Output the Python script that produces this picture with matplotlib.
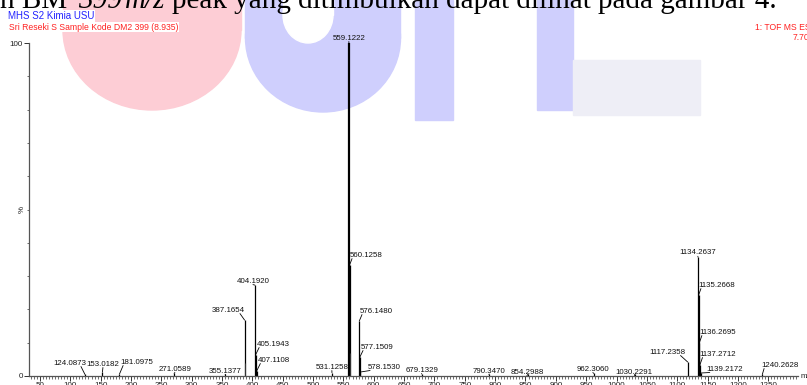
import matplotlib
matplotlib.use('Agg')
from matplotlib import pyplot as plt
from matplotlib.ticker import MultipleLocator
from matplotlib.patches import Ellipse, Rectangle

# labelled peaks: m/z, relative intensity (%)
peak_mz = [124.0873, 153.0182, 181.0975, 271.0589, 355.1377, 387.1654,
           404.1920, 405.1943, 407.1108, 531.1258, 559.1222, 560.1258,
           576.1480, 577.1509, 578.1530, 679.1329, 790.3470, 854.2988,
           962.3060, 1030.2291, 1117.2358, 1134.2637, 1135.2668, 1136.2695,
           1137.2712, 1139.2172, 1240.2628]
peak_int = [0.5, 1.2, 0.6, 0.8, 0.5, 16.8,
            27.3, 6.3, 1.5, 1.0, 100.0, 33.3,
            16.5, 5.7, 1.2, 0.6, 0.6, 0.5,
            0.8, 0.5, 4.2, 35.7, 24.3, 9.9,
            3.3, 0.9, 0.5]

# where the peak labels sit (m/z, %)
label_mz = [98.6, 153.8, 209.8, 272.4, 355.9, 360.5,
            401.0, 434.0, 435.5, 531.0, 559.0, 587.0,
            603.5, 605.0, 616.7, 678.8, 789.7, 852.3,
            961.0, 1029.4, 1084.6, 1134.0, 1164.5, 1166.0,
            1167.0, 1179.0, 1269.0]
label_pct = [3.9, 3.6, 4.2, 2.1, 1.5, 19.8,
             28.5, 9.6, 4.8, 2.7, 101.5, 36.3,
             19.5, 8.7, 2.7, 1.8, 1.5, 1.2,
             2.1, 1.2, 7.2, 37.0, 27.3, 13.2,
             6.6, 2.1, 3.3]

# unlabelled isotope peaks
extra_mz = [388.17, 561.13]
extra_int = [4.0, 7.0]

W, H = 807, 385


def fx(x):
    return x / W


def fy(y):
    return 1 - y / H


fig = plt.figure(figsize=(W / 100, H / 100), dpi=100)
plt.rcParams['font.family'] = ['Liberation Sans', 'DejaVu Sans']

# faded logo watermark behind the page
pink = '#fdcdd5'
blue = '#cfcffd'
wm = [
    Ellipse((fx(152), fy(30)), 178 / W, 160 / H, color=pink),
    Rectangle((fx(63), fy(30)), 178 / W, 30 / H, color=pink),
    Ellipse((fx(323), fy(38)), 155 / W, 148 / H, color=blue),
    Rectangle((fx(245), fy(38)), 155 / W, 38 / H, color=blue),
    Ellipse((fx(308), fy(15)), 50 / W, 56 / H, color='white'),
    Rectangle((fx(283), fy(15)), 50 / W, 15 / H, color='white'),
    Rectangle((fx(415), fy(120)), 38 / W, 120 / H, color=blue),
    Rectangle((fx(537), fy(110)), 36 / W, 110 / H, color=blue),
    Rectangle((fx(573), fy(115)), 127 / W, 55 / H, color='#eeeef6'),
]
for p in wm:
    p.set_transform(fig.transFigure)
    p.set_zorder(-5)
    fig.add_artist(p)

# sentence of the page, cut at the top
serif = dict(family='Liberation Serif', size=21, va='baseline', color='black')
fig.text(fx(67), fy(8.5), 'n BM', ha='right', **serif)
fig.text(fx(78), fy(8.5), '399', ha='left', style='italic', **serif)
fig.text(fx(125), fy(8.5), 'm/z', ha='left', style='italic', **serif)
fig.text(fx(172), fy(8.5), 'peak yang ditimbulkan dapat dilihat pada gambar 4.',
         ha='left', **serif)

box = dict(facecolor='white', edgecolor='none', pad=0.6)
fig.text(fx(8), fy(16), 'MHS S2 Kimia USU', color='#2222ff', fontsize=7,
         va='center', bbox=box)
fig.text(fx(9), fy(27), 'Sri Reseki S Sample Kode DM2 399 (8.935)', color='#ff2222',
         fontsize=6.25, va='center', bbox=box)
fig.text(fx(755), fy(27), '1: TOF MS ES+', color='#ff2222', fontsize=6.25, va='center')
fig.text(fx(793), fy(37), '7.70e3', color='#ff2222', fontsize=6.25, va='center')

ax = fig.add_axes([fx(29), fy(376), (798 - 29) / W, (376 - 43) / H])
ax.patch.set_alpha(0)

lws = [1.6 if h > 50 else 0.9 for h in peak_int]
ax.vlines(peak_mz, 0, peak_int, color='k', linewidths=lws)
ax.vlines(extra_mz, 0, extra_int, color='#333333', linewidths=0.8)

for m, h, lx, ly in zip(peak_mz, peak_int, label_mz, label_pct):
    dx = lx - m
    if dx > 8:
        rel = (0.08, 0)
    elif dx < -8:
        rel = (0.85, 0)
    else:
        rel = (0.5, 0)
    ax.annotate(f'{m:.4f}', xy=(m, h), xytext=(lx, ly), textcoords='data',
                ha='center', va='center', fontsize=5.7, color='#111111',
                annotation_clip=False,
                arrowprops=dict(arrowstyle='-', lw=0.6, color='k', shrinkA=0,
                                shrinkB=0, patchA=None, relpos=rel))

ax.set_xlim(32, 1299)
ax.set_ylim(0, 100)
for s in ['top', 'right']:
    ax.spines[s].set_visible(False)
for s in ['left', 'bottom']:
    ax.spines[s].set_color('#555555')
    ax.spines[s].set_linewidth(0.9)

ax.xaxis.set_major_locator(MultipleLocator(50))
ax.xaxis.set_major_formatter('{x:.0f}')
ax.xaxis.set_minor_locator(MultipleLocator(5))
ax.set_yticks([0, 100])
ax.yaxis.set_minor_locator(MultipleLocator(10))
ax.tick_params(which='major', length=3.5, width=0.7, labelsize=5.8, pad=1,
               color='#333333', labelcolor='#222222')
ax.tick_params(which='minor', length=1.8, width=0.5, color='#333333')

fig.text(fx(22), fy(209), '%', rotation=90, fontsize=5.8, ha='center', va='center',
         color='#222222')
fig.text(fx(801), fy(376), 'm/z', fontsize=5.8, ha='left', va='center', color='#222222')

plt.savefig('out.png', dpi=100)
